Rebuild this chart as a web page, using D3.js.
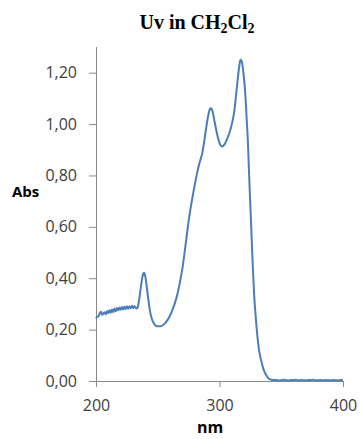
<!DOCTYPE html>
<html>
<head>
<meta charset="utf-8">
<script src="https://cdn.jsdelivr.net/npm/d3@7"></script>
<style>
  body { margin: 0; background: #fff; }
  .tick text { font-family: "Open Sans", sans-serif; font-size: 16px; fill: #404040; }
  .axis-label { font-family: "Open Sans", sans-serif; font-weight: bold; fill: #000; }
</style>
</head>
<body>
<script>
// wavelength (nm) and absorbance
const wavelengths = [
  200,201,202,203,204,205,206,207,208,209,210,211,212,213,214,215,216,217,218,219,
  220,221,222,223,224,225,226,227,228,229,230,231,232,233,234,235,236,237,238,239,
  240,241,242,243,244,245,246,247,248,249,250,252,254,256,258,260,262,264,266,268,
  270,272,274,276,278,280,282,284,286,288,290,292,293,294,296,298,300,302,304,306,
  308,310,312,314,316,317,318,319,320,321,322,323,324,325,326,327,328,329,330,331,
  332,333,334,335,336,337,338,339,340,342,344,346,348,350,352,354,356,358,360,362,
  364,366,368,370,372,374,376,378,380,382,384,386,388,390,392,394,396,398,400
];
const absorbance = [
  0.243,0.250,0.252,0.264,0.270,0.257,0.263,0.268,0.259,0.272,0.264,0.275,0.266,0.278,0.268,0.282,0.271,0.284,0.275,0.286,
  0.277,0.288,0.278,0.289,0.280,0.291,0.281,0.290,0.283,0.293,0.284,0.292,0.285,0.282,0.291,0.318,0.355,0.388,0.414,0.421,
  0.405,0.370,0.330,0.295,0.265,0.245,0.232,0.223,0.217,0.214,0.213,0.213,0.217,0.225,0.238,0.255,0.278,0.305,0.340,0.385,
  0.440,0.510,0.585,0.655,0.712,0.765,0.812,0.852,0.886,0.945,1.010,1.055,1.063,1.055,1.010,0.962,0.926,0.913,0.920,0.940,
  0.965,1.000,1.050,1.140,1.225,1.250,1.245,1.215,1.170,1.110,1.020,0.930,0.800,0.680,0.560,0.440,0.340,0.270,0.210,0.160,
  0.120,0.095,0.075,0.056,0.041,0.030,0.021,0.014,0.009,0.005,0.003,0.004,0.002,0.003,0.005,0.003,0.002,0.004,0.003,0.005,
  0.002,0.004,0.003,0.002,0.004,0.003,0.005,0.002,0.003,0.004,0.002,0.004,0.003,0.002,0.004,0.003,0.002,0.004,0.003
];
const xTicks = [200, 300, 400];
const yTicks = [0, 0.2, 0.4, 0.6, 0.8, 1.0, 1.2];

const W = 360, H = 439;
const plot = {left: 96, right: 343, top: 47, bottom: 381};

const svg = d3.select("body").append("svg")
  .attr("width", W).attr("height", H);

const x = d3.scaleLinear().domain([200, 400]).range([plot.left, plot.right]);
const y = d3.scaleLinear().domain([0, 1.3]).range([plot.bottom, plot.top]);

const fmt = d => d.toFixed(2).replace(".", ",");

const yAxis = svg.append("g")
  .attr("transform", "translate(" + plot.left + ",0)")
  .call(d3.axisLeft(y).tickValues(yTicks).tickFormat(fmt).tickSize(7).tickPadding(12));

const xAxis = svg.append("g")
  .attr("transform", "translate(0," + plot.bottom + ")")
  .call(d3.axisBottom(x).tickValues(xTicks).tickFormat(d3.format("d")).tickSize(6).tickPadding(13));

svg.selectAll(".domain, .tick line").attr("stroke", "#898989").attr("stroke-width", 1);
yAxis.select(".domain").attr("d", "M0.5," + plot.top + "V" + (plot.bottom + 0.5));
xAxis.select(".domain").attr("d", "M" + plot.left + ",0.5H" + plot.right);

const pts = wavelengths.map((w, i) => [w, absorbance[i]]);
svg.append("path")
  .datum(pts)
  .attr("fill", "none")
  .attr("stroke", "#4a7ebb")
  .attr("stroke-width", 2)
  .attr("stroke-linejoin", "round")
  .attr("d", d3.line().x(d => x(d[0])).y(d => y(d[1])).curve(d3.curveMonotoneX));

// title with subscripts
const title = svg.append("text")
  .attr("x", 197).attr("y", 29)
  .attr("text-anchor", "middle")
  .style("font-family", "'Liberation Serif', 'Times New Roman', serif")
  .style("font-weight", "bold")
  .style("font-size", "20px");
title.append("tspan").text("Uv in CH");
title.append("tspan").attr("dy", 4).style("font-size", "14px").text("2");
title.append("tspan").attr("dy", -4).text("Cl");
title.append("tspan").attr("dy", 4).style("font-size", "14px").text("2");

svg.append("text").attr("class", "axis-label")
  .attr("x", 12).attr("y", 197)
  .style("font-size", "15px")
  .text("Abs");

svg.append("text").attr("class", "axis-label")
  .attr("x", 210).attr("y", 433)
  .attr("text-anchor", "middle")
  .style("font-size", "16px")
  .text("nm");
</script>
</body>
</html>
